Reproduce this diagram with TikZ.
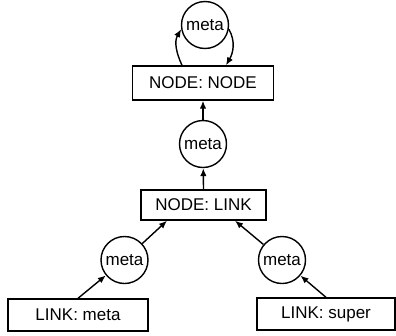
\documentclass[tikz,border=0pt]{standalone}
\usepackage{fontspec}
\setmainfont{Liberation Sans}
\usetikzlibrary{arrows.meta}
\begin{document}
\begin{tikzpicture}[x=1pt,y=-1pt,
  box/.style={draw,line width=1.4pt,rectangle,inner sep=0pt,font=\fontsize{17}{20}\selectfont},
  circ/.style={draw,line width=1.4pt,circle,inner sep=0pt,minimum size=47pt,font=\fontsize{17}{20}\selectfont},
  arr/.style={line width=1.4pt,-{Latex[length=8pt,width=6.5pt]}}]
\useasboundingbox (0,0) rectangle (396,335);
\node[box,minimum width=141pt,minimum height=34pt] (nn) at (203,83) {NODE: NODE};
\node[box,minimum width=125pt,minimum height=30pt] (nl) at (203.5,205) {NODE: LINK};
\node[box,minimum width=140pt,minimum height=32pt] (lm) at (78,315) {LINK: meta};
\node[box,minimum width=138pt,minimum height=32pt] (ls) at (326,314) {LINK: super};
\node[circ] (c0) at (205,25) {meta};
\node[circ] (c2) at (203,144) {meta};
\node[circ] (c1) at (124.5,260) {meta};
\node[circ] (c3) at (282,260) {meta};
\draw[arr] (lm.north) -- (c1);
\draw[arr] (c1) -- ([xshift=-36.5pt]nl.south);
\draw[arr] (ls.north) -- (c3);
\draw[arr] (c3) -- ([xshift=31.5pt]nl.south);
\draw[arr] (nl.north) -- (c2);
\draw[arr] (c2) -- (nn);
\draw[arr] ([xshift=-21pt]nn.north) to[out=115,in=240] (c0.190);
\draw[arr] (c0.-10) to[out=-60,in=60] ([xshift=23pt]nn.north);
\end{tikzpicture}
\end{document}
